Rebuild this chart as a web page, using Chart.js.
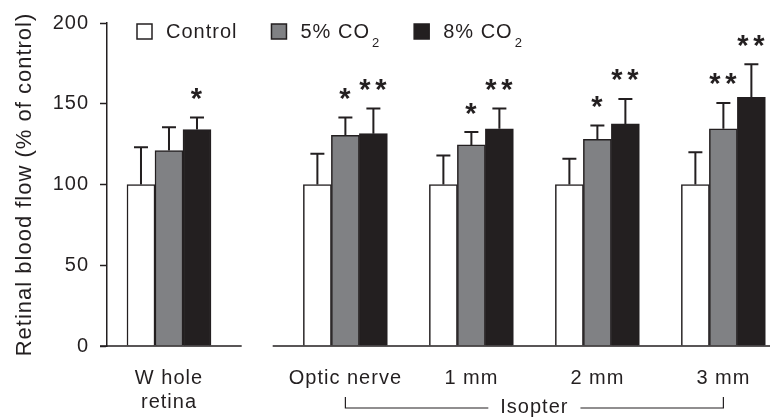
<!DOCTYPE html>
<html>
<head>
<meta charset="utf-8">
<title>Retinal blood flow</title>
<script src="https://cdn.jsdelivr.net/npm/chart.js@4/dist/chart.umd.min.js"></script>
<style>
  html, body { margin: 0; padding: 0; background: #fff; }
  #wrap { width: 773px; height: 420px; }
</style>
</head>
<body>
<div id="wrap"><canvas id="flowChart"></canvas></div>
<script>
// Regions on the x axis (first one is split over two lines)
const regions = [['W hole', 'retina'], 'Optic nerve', '1 mm', '2 mm', '3 mm'];
const seriesNames = ['Control', '5% CO\u2082', '8% CO\u2082'];

// Mean flow, % of control
const controlFlow = [100, 100, 100, 100, 100];
const co2Flow5 = [121, 130.5, 124.5, 128, 134.5];
const co2Flow8 = [134, 131.5, 134.5, 137.5, 154];

// SEM (upper error bar only)
const controlSem = [23, 19, 18, 16, 20];
const co2Sem5 = [14.5, 11, 8, 8.5, 16];
const co2Sem8 = [7.5, 15.5, 12.5, 15.5, 20.5];

// Significance marks vs control
const controlSig = ['', '', '', '', ''];
const co2Sig5 = ['', '*', '*', '*', '**'];
const co2Sig8 = ['*', '**', '**', '**', '**'];

const yTicks = [0, 50, 100, 150, 200];

// Where each group sits on the x axis (whole retina is set apart)
const groupPos = [0, 1.4, 2.4, 3.4, 4.4];
const axisBreak = 0.7;

const FONT = 'Liberation Sans, Arial, sans-serif';
const INK = '#231f20';

function makeSet(label, values, sem, sig, color) {
    return {
        label: label,
        data: groupPos.map((x, i) => ({ x: x, y: values[i] })),
        sem: sem,
        sig: sig,
        backgroundColor: color,
        borderColor: INK,
        borderWidth: 1.5,
        barThickness: 28
    };
}

// Letter spacing for every text the chart draws
const spacingPlugin = {
    id: 'spacing',
    beforeUpdate(chart) { chart.ctx.letterSpacing = '1px'; },
    beforeDraw(chart) { chart.ctx.letterSpacing = '1px'; }
};

// Error bars and significance stars
const errorBarPlugin = {
    id: 'errorBars',
    afterDatasetsDraw(chart) {
        const ctx = chart.ctx;
        const y = chart.scales.y;
        ctx.save();
        ctx.strokeStyle = INK;
        ctx.lineWidth = 2;
        chart.data.datasets.forEach((ds, i) => {
            const meta = chart.getDatasetMeta(i);
            meta.data.forEach((bar, j) => {
                const top = y.getPixelForValue(ds.data[j].y + ds.sem[j]);
                ctx.beginPath();
                ctx.moveTo(bar.x, bar.y);
                ctx.lineTo(bar.x, top);
                ctx.moveTo(bar.x - 7, top);
                ctx.lineTo(bar.x + 7, top);
                ctx.stroke();

                const marks = ds.sig[j];
                if (!marks) return;
                ctx.font = 'bold 29px ' + FONT;
                ctx.fillStyle = INK;
                ctx.textAlign = 'center';
                ctx.textBaseline = 'alphabetic';
                const m = ctx.measureText('*');
                const mid = top - 23.5;
                const base = mid + (m.actualBoundingBoxAscent - m.actualBoundingBoxDescent) / 2;
                for (let k = 0; k < marks.length; k++) {
                    const sx = bar.x + (k - (marks.length - 1) / 2) * 16;
                    ctx.fillText('*', sx, base);
                }
            });
        });
        ctx.restore();
    }
};

// Broken x axis line, isopter bracket and the legend row
const decorPlugin = {
    id: 'decor',
    afterDraw(chart) {
        const ctx = chart.ctx;
        const area = chart.chartArea;
        const x = chart.scales.x;
        ctx.save();
        ctx.letterSpacing = '1px';
        ctx.strokeStyle = INK;
        ctx.fillStyle = INK;
        ctx.lineWidth = 1.5;

        const bx = x.getPixelForValue(axisBreak);
        const yb = area.bottom;
        ctx.beginPath();
        ctx.moveTo(area.left - 7, yb);
        ctx.lineTo(bx - 15.5, yb);
        ctx.moveTo(bx + 15.5, yb);
        ctx.lineTo(area.right, yb);
        ctx.stroke();

        // Isopter bracket under the last four groups
        const xs = x.getPixelForValue(groupPos[1]);
        const xe = x.getPixelForValue(groupPos[4]);
        const yTop = yb + 51;
        const yLine = yb + 62;
        ctx.lineWidth = 1.2;
        ctx.font = '20px ' + FONT;
        ctx.textAlign = 'center';
        ctx.textBaseline = 'middle';
        const label = 'Isopter';
        const mid = (xs + xe) / 2;
        const half = ctx.measureText(label).width / 2 + 12;
        ctx.beginPath();
        ctx.moveTo(xs, yTop);
        ctx.lineTo(xs, yLine);
        ctx.lineTo(mid - half, yLine);
        ctx.moveTo(mid + half, yLine);
        ctx.lineTo(xe, yLine);
        ctx.lineTo(xe, yTop);
        ctx.stroke();
        ctx.fillText(label, mid, yLine - 1);

        // Legend
        let lx = area.left + 30;
        const ly = area.top + 1;
        ctx.lineWidth = 1.5;
        ctx.textAlign = 'left';
        ctx.textBaseline = 'alphabetic';
        chart.data.datasets.forEach(ds => {
            ctx.fillStyle = ds.backgroundColor;
            ctx.fillRect(lx, ly, 15, 15);
            ctx.strokeRect(lx, ly, 15, 15);
            lx += 15 + 14;
            ctx.fillStyle = INK;
            const text = ds.label;
            const sub = text.endsWith('\u2082');
            const main = sub ? text.slice(0, -1) : text;
            ctx.font = '20px ' + FONT;
            ctx.fillText(main, lx, ly + 14);
            lx += ctx.measureText(main).width;
            if (sub) {
                ctx.font = '13px ' + FONT;
                ctx.fillText('2', lx + 2, ly + 23);
                lx += ctx.measureText('2').width + 2;
            }
            lx += 34;
        });
        ctx.restore();
    }
};

const ctx = document.getElementById('flowChart').getContext('2d');
new Chart(ctx, {
    type: 'bar',
    data: {
        datasets: [
            makeSet(seriesNames[0], controlFlow, controlSem, controlSig, '#ffffff'),
            makeSet(seriesNames[1], co2Flow5, co2Sem5, co2Sig5, '#808184'),
            makeSet(seriesNames[2], co2Flow8, co2Sem8, co2Sig8, INK)
        ]
    },
    options: {
        responsive: true,
        maintainAspectRatio: false,
        animation: false,
        layout: { padding: { top: 20, right: 3, left: 0, bottom: 0 } },
        plugins: {
            legend: { display: false },
            tooltip: { enabled: false }
        },
        scales: {
            x: {
                type: 'linear',
                min: -0.492,
                max: 4.77,
                offset: false,
                grid: { display: false, drawTicks: false },
                border: { display: false },
                afterBuildTicks: scale => {
                    scale.ticks = groupPos.map(v => ({ value: v }));
                },
                afterFit: scale => { scale.height = 74; },
                ticks: {
                    autoSkip: false,
                    maxRotation: 0,
                    padding: 20,
                    color: INK,
                    font: { family: FONT, size: 20, lineHeight: 1.2 },
                    callback: (value, index) => regions[index]
                }
            },
            y: {
                min: 0,
                max: 200,
                afterBuildTicks: scale => {
                    scale.ticks = yTicks.map(v => ({ value: v }));
                },
                afterFit: scale => { scale.width = 107; },
                grid: {
                    drawOnChartArea: false,
                    drawTicks: true,
                    tickLength: 7,
                    tickColor: INK,
                    tickWidth: 1.5
                },
                border: { display: true, color: INK, width: 1.5 },
                ticks: {
                    padding: 11,
                    color: INK,
                    font: { family: FONT, size: 20 }
                },
                title: {
                    display: true,
                    text: 'Retinal blood flow (% of control)',
                    color: INK,
                    padding: { top: 12, bottom: 0 },
                    font: { family: FONT, size: 22 }
                }
            }
        }
    },
    plugins: [spacingPlugin, errorBarPlugin, decorPlugin]
});
</script>
</body>
</html>
